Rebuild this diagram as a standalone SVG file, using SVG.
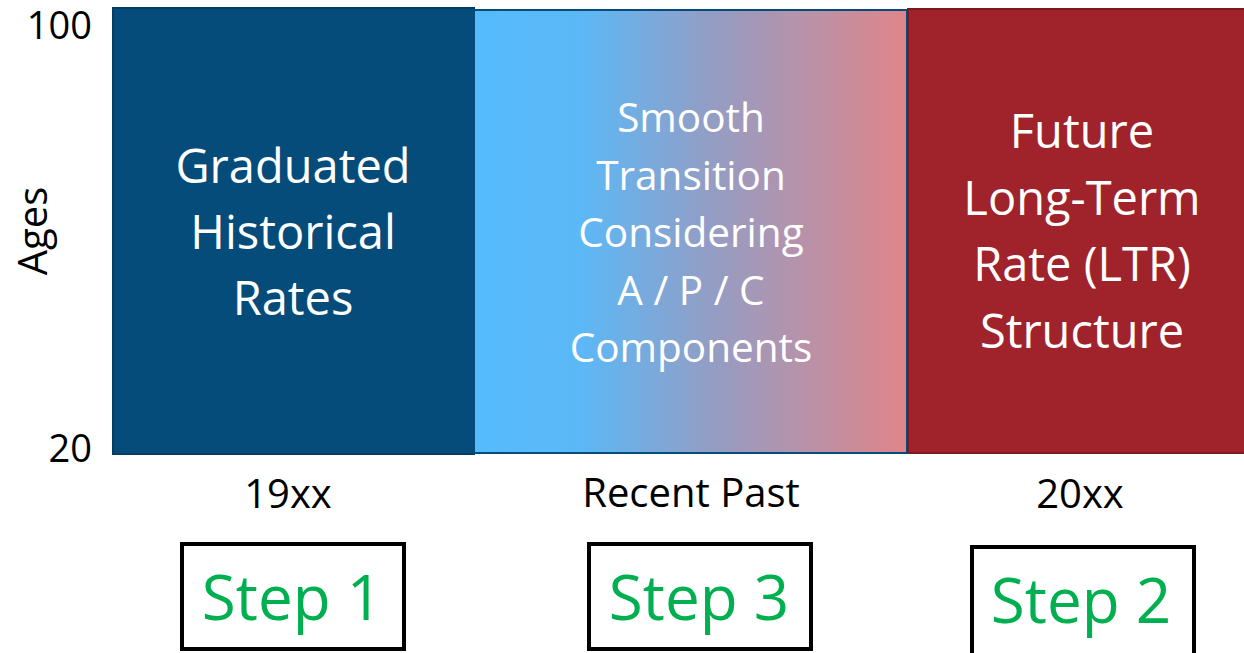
<svg xmlns="http://www.w3.org/2000/svg" width="1244" height="653" viewBox="0 0 1244 653">
  <style>
    text { font-family: "Open Sans", "Noto Sans", "Liberation Sans", sans-serif; }
    .block { fill: #ffffff; text-anchor: middle; font-size: 47px; }
    .mid { fill: #ffffff; text-anchor: middle; font-size: 40.5px; }
    .axis { fill: #000000; font-size: 38px; }
    .period { fill: #000000; text-anchor: middle; font-size: 40px; }
    .step-box { fill: #ffffff; stroke: #000000; stroke-width: 4; }
    .step { fill: #00b050; text-anchor: middle; font-size: 62px; }
  </style>
  <defs>
    <linearGradient id="transition" x1="0" y1="0" x2="1" y2="0">
      <stop offset="0" stop-color="#55bbfd"/>
      <stop offset="0.25" stop-color="#5cb8f6"/>
      <stop offset="0.55" stop-color="#949dc4"/>
      <stop offset="1" stop-color="#e0858a"/>
    </linearGradient>
  </defs>

  <!-- axis labels -->
  <g id="axis">
    <text class="axis" x="92" y="39" text-anchor="end">100</text>
    <text class="axis" x="92" y="462" text-anchor="end">20</text>
    <text class="axis" transform="translate(47 231) rotate(-90)" text-anchor="middle" style="font-size:40px">Ages</text>
  </g>

  <!-- historical block -->
  <g id="historical">
    <rect x="113" y="8" width="361" height="446" fill="#054c7b" stroke="#043d63" stroke-width="2"/>
    <text class="block" x="293" y="183">Graduated</text>
    <text class="block" x="293" y="249">Historical</text>
    <text class="block" x="293" y="315">Rates</text>
  </g>

  <!-- transition block -->
  <g id="transition-block">
    <rect x="474" y="10" width="433" height="443" fill="url(#transition)" stroke="#054c7b" stroke-width="2"/>
    <text class="mid" x="691" y="132">Smooth</text>
    <text class="mid" x="691" y="190">Transition</text>
    <text class="mid" x="691" y="247">Considering</text>
    <text class="mid" x="691" y="305">A / P / C</text>
    <text class="mid" x="691" y="362">Components</text>
  </g>

  <!-- long-term block -->
  <g id="long-term">
    <rect x="908" y="9" width="340" height="444" fill="#a0232b" stroke="#7a1a20" stroke-width="2"/>
    <text class="block" x="1082" y="148">Future</text>
    <text class="block" x="1082" y="215">Long-Term</text>
    <text class="block" x="1082" y="281">Rate (LTR)</text>
    <text class="block" x="1082" y="348">Structure</text>
  </g>

  <!-- period labels -->
  <g id="periods">
    <text class="period" x="288" y="508">19xx</text>
    <text class="period" x="691" y="507">Recent Past</text>
    <text class="period" x="1080" y="508">20xx</text>
  </g>

  <!-- step boxes -->
  <g id="step1">
    <rect class="step-box" x="182" y="544" width="222" height="105"/>
    <text class="step" x="292" y="620">Step 1</text>
  </g>
  <g id="step3">
    <rect class="step-box" x="589" y="544" width="222" height="105"/>
    <text class="step" x="699" y="620">Step 3</text>
  </g>
  <g id="step2">
    <rect class="step-box" x="972" y="547" width="222" height="110"/>
    <text class="step" x="1081" y="623">Step 2</text>
  </g>

  <g id="connectors"/>
</svg>
